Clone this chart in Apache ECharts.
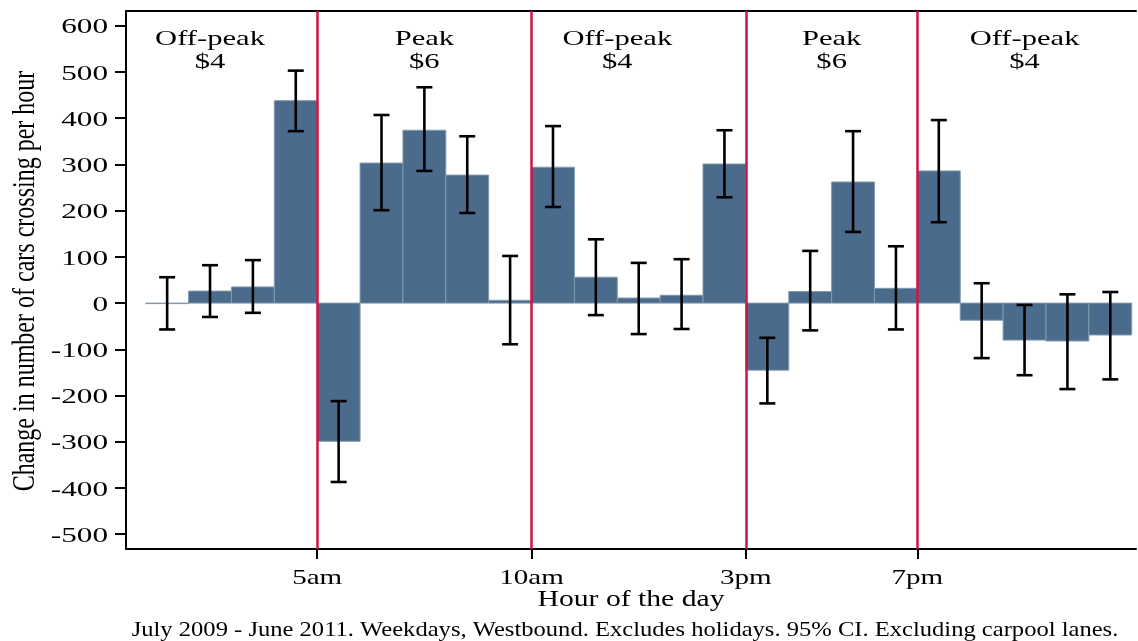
<!DOCTYPE html>
<html><head><meta charset="utf-8">
<script src="https://cdn.jsdelivr.net/npm/echarts@6/dist/echarts.min.js"></script>
<style>html,body{margin:0;padding:0;background:#fff}#c{width:1138px;height:641px}</style>
</head><body><div id="c"></div>
<script>
// ---- data ----
const hours   = [1, 2, 3, 4, 5, 6, 7, 8, 9, 10, 11, 12, 13, 14, 15, 16, 17, 18, 19, 20, 21, 22, 23];
const values  = [0, 26, 35, 438, -299, 303, 374, 277, 6, 294, 56, 11, 17, 301, -145, 25, 262, 32, 286, -37, -80, -82, -69];
const ciLow   = [-57, -30, -21, 372, -387, 201, 286, 195, -89, 208, -26, -67, -56, 229, -217, -59, 154, -57, 175, -119, -156, -186, -165];
const ciHigh  = [56, 82, 93, 503, -212, 407, 467, 361, 102, 383, 138, 87, 95, 374, -75, 113, 372, 123, 396, 43, -4, 19, 24];
const yTicks  = [-500, -400, -300, -200, -100, 0, 100, 200, 300, 400, 500, 600];
const xTickHours  = [5, 10, 15, 19];
const xTickLabels = ['5am', '10am', '3pm', '7pm'];
const zoneHours  = [2.5, 7.5, 12, 17, 21.5];
const zoneNames  = ['Off-peak', 'Peak', 'Off-peak', 'Peak', 'Off-peak'];
const zonePrices = ['$4', '$6', '$4', '$6', '$4'];
const yTitle = 'Change in number of cars crossing per hour';
const xTitle = 'Hour of the day';
const note = 'July 2009 - June 2011. Weekdays, Westbound. Excludes holidays. 95% CI. Excluding carpool lanes.';

// ---- styling / layout ----
const X_MIN = 0.54, X_MAX = 24.1, Y_MIN = -532, Y_MAX = 632;
const FONT = '"Liberation Serif", "Times New Roman", serif';
const BAR_FILL = '#4a6b8c', BAR_EDGE = '#8299ae', RED = '#cf1444';

const chart = echarts.init(document.getElementById('c'), null, {renderer: 'canvas'});
const axisLineStyle = {color: '#000', width: 2};
const option = {
  animation: false,
  backgroundColor: '#fff',
  grid: {left: 126, right: 2, top: 11, bottom: 92, containLabel: false},
  xAxis: [{
    type: 'value', min: X_MIN, max: X_MAX,
    axisLine: {show: true, onZero: false, lineStyle: axisLineStyle},
    axisTick: {show: true, customValues: xTickHours, length: 10, lineStyle: axisLineStyle},
    axisLabel: {show: false}, splitLine: {show: false}
  }, {
    type: 'value', min: X_MIN, max: X_MAX, position: 'top',
    axisLine: {show: true, onZero: false, lineStyle: axisLineStyle},
    axisTick: {show: false}, axisLabel: {show: false}, splitLine: {show: false}
  }],
  yAxis: {
    type: 'value', min: Y_MIN, max: Y_MAX,
    axisLine: {show: true, onZero: false, lineStyle: axisLineStyle},
    axisTick: {show: true, customValues: yTicks, length: 11, lineStyle: axisLineStyle},
    axisLabel: {show: false}, splitLine: {show: false}
  },
  series: [{
    type: 'custom', name: 'change', xAxisIndex: 0, z: 2,
    data: hours.map((h, i) => [h, values[i]]),
    renderItem(params, api) {
      const h = api.value(0), v = api.value(1);
      const p0 = api.coord([h, 0]);
      const p1 = api.coord([h + 1, v]);
      return {
        type: 'rect',
        shape: {x: p0[0], y: Math.min(p0[1], p1[1]), width: p1[0] - p0[0], height: Math.max(Math.abs(p1[1] - p0[1]), 0.5)},
        style: {fill: BAR_FILL, stroke: BAR_EDGE, lineWidth: 1}
      };
    }
  }, {
    type: 'custom', name: 'ci', xAxisIndex: 0, z: 4,
    data: hours.map((h, i) => [h, ciLow[i], ciHigh[i]]),
    renderItem(params, api) {
      const h = api.value(0);
      const lo = api.coord([h + 0.5, api.value(1)]);
      const hi = api.coord([h + 0.5, api.value(2)]);
      const cw = 8;
      const st = {stroke: '#000', lineWidth: 2.6};
      return {type: 'group', children: [
        {type: 'line', shape: {x1: lo[0], y1: lo[1], x2: hi[0], y2: hi[1]}, style: st},
        {type: 'line', shape: {x1: lo[0] - cw, y1: lo[1], x2: lo[0] + cw, y2: lo[1]}, style: st},
        {type: 'line', shape: {x1: hi[0] - cw, y1: hi[1], x2: hi[0] + cw, y2: hi[1]}, style: st}
      ]};
    },
    markLine: {
      silent: true, symbol: 'none', animation: false,
      lineStyle: {color: RED, width: 2.5, type: 'solid'},
      label: {show: false},
      data: xTickHours.map(h => ({xAxis: h}))
    }
  }]
};
chart.setOption(option);

// ---- texts (horizontally stretched serif, positioned through the axes) ----
const px = (x, y) => chart.convertToPixel({xAxisIndex: 0, yAxisIndex: 0}, [x, y]);
const txt = (text, x, y, size, sx, align, extra) => Object.assign({
  type: 'text', x: x, y: y, scaleX: sx, scaleY: 1, z: 10,
  style: {text: text, font: size + 'px ' + FONT, fill: '#000',
          align: align, textAlign: align, verticalAlign: 'middle', textVerticalAlign: 'middle'}
}, extra || {});
const g = [];
const pOrigin = px(X_MIN, Y_MIN);
yTicks.forEach(v => {
  const p = px(X_MIN, v);
  g.push(txt(String(v), p[0] - 18, p[1] + 2, 21.5, 1.45, 'right'));
});
xTickHours.forEach((h, i) => {
  const p = px(h, Y_MIN);
  g.push(txt(xTickLabels[i], p[0], p[1] + 29, 22, 1.32, 'center'));
});
zoneHours.forEach((h, i) => {
  const p = px(h, Y_MAX);
  g.push(txt(zoneNames[i], p[0], p[1] + 28, 22, 1.39, 'center'));
  g.push(txt(zonePrices[i], p[0], p[1] + 51, 22, 1.39, 'center'));
});
// axis titles
const pTop = px(X_MIN, Y_MAX), pRight = px(X_MAX, Y_MIN);
g.push({type: 'text', x: 26, y: (pTop[1] + pOrigin[1]) / 2 + 1, rotation: Math.PI / 2, scaleX: 0.98, scaleY: 1.3, z: 10,
  style: {text: yTitle, font: '24.5px ' + FONT, fill: '#000', align: 'center', textAlign: 'center', verticalAlign: 'middle', textVerticalAlign: 'middle'}});
g.push(txt(xTitle, (pOrigin[0] + pRight[0]) / 2, pOrigin[1] + 51, 23, 1.29, 'center'));
g.push(txt(note, 625, 630, 21, 1.17, 'center'));
chart.setOption({graphic: g});
</script>
</body></html>
